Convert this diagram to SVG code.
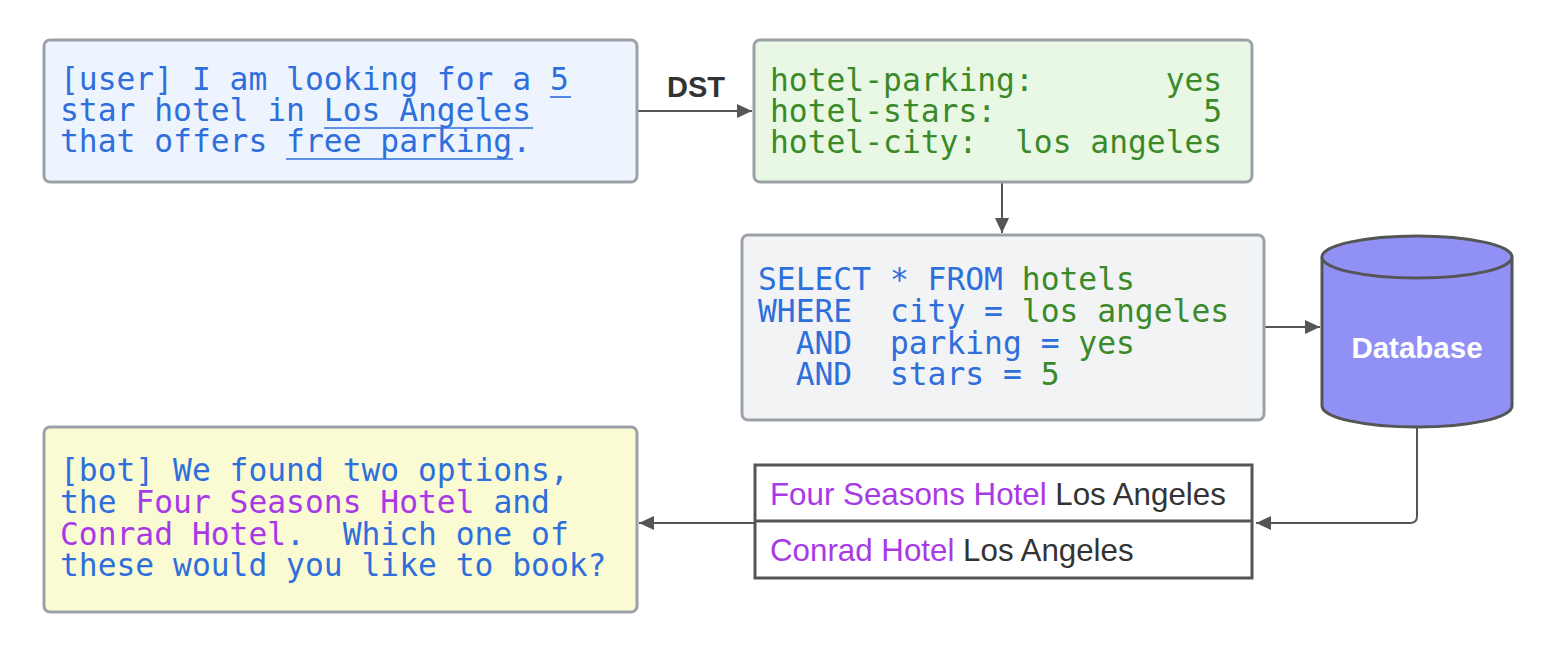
<svg xmlns="http://www.w3.org/2000/svg" width="1554" height="654" viewBox="0 0 1554 654">
<style>
.box{stroke:#9ca1a8;stroke-width:3}
.mono{font-family:"DejaVu Sans Mono","Liberation Mono",monospace;font-size:31.3px;white-space:pre}
.b{fill:#2f6fdc}
.g{fill:#3a8a2a}
.p{fill:#a83ae6}
.k{fill:#333333}
.ul{stroke:#2f6fdc;stroke-width:1.6}
.conn{fill:none;stroke:#555555;stroke-width:2}
.sans{font-family:"Liberation Sans",Arial,sans-serif}
</style>
<defs>
<marker id="arr" markerUnits="userSpaceOnUse" markerWidth="16" markerHeight="14" refX="15" refY="7" orient="auto">
<path d="M0,0 L15,7 L0,14 z" fill="#555555"/>
</marker>
</defs>
<rect width="1554" height="654" fill="#ffffff"/>

<g id="connectors">
<path class="conn" d="M637,111 L752,111" marker-end="url(#arr)"/>
<path class="conn" d="M1002,182 L1002,233" marker-end="url(#arr)"/>
<path class="conn" d="M1264,327 L1320,327" marker-end="url(#arr)"/>
<path class="conn" d="M1417,427 L1417,516 Q1417,523 1410,523 L1256,523" marker-end="url(#arr)"/>
<path class="conn" d="M755,523 L639,523" marker-end="url(#arr)"/>
<text class="sans" x="696" y="97" text-anchor="middle" font-size="29" font-weight="bold" fill="#333333">DST</text>
</g>

<g id="user">
<rect class="box" x="44" y="40" width="593" height="142" rx="6" fill="#eef4fe"/>
<text class="mono b"><tspan x="60" y="90">[user] I am looking for a 5</tspan><tspan x="60" y="121">star hotel in Los Angeles</tspan><tspan x="60" y="152">that offers free parking.</tspan></text>
<line class="ul" x1="550" y1="97" x2="571" y2="97"/>
<line class="ul" x1="324" y1="128" x2="533" y2="128"/>
<line class="ul" x1="286" y1="159" x2="513" y2="159"/>
</g>

<g id="state">
<rect class="box" x="754" y="40" width="498" height="142" rx="6" fill="#e8f8e4"/>
<text class="mono g"><tspan x="770" y="91">hotel-parking:       yes</tspan><tspan x="770" y="122">hotel-stars:           5</tspan><tspan x="770" y="153">hotel-city:  los angeles</tspan></text>
</g>

<g id="query">
<rect class="box" x="742" y="235" width="522" height="185" rx="6" fill="#f2f3f5"/>
<text class="mono"><tspan x="758" y="290" class="b">SELECT * FROM </tspan><tspan class="g">hotels</tspan><tspan x="758" y="322" class="b">WHERE  city = </tspan><tspan class="g">los angeles</tspan><tspan x="758" y="354" class="b">  AND  parking = </tspan><tspan class="g">yes</tspan><tspan x="758" y="385" class="b">  AND  stars = </tspan><tspan class="g">5</tspan></text>
</g>

<g id="database">
<path d="M1322,257 L1322,406 A95,21 0 0 0 1512,406 L1512,257" fill="#9090f5" stroke="#555555" stroke-width="3"/>
<ellipse cx="1417" cy="257" rx="95" ry="21" fill="#9090f5" stroke="#555555" stroke-width="3"/>
<text class="sans" x="1417" y="358" text-anchor="middle" font-size="29.5" font-weight="bold" fill="#ffffff">Database</text>
</g>

<g id="results">
<rect x="755" y="465" width="497" height="113" fill="#ffffff" stroke="#555555" stroke-width="3"/>
<line x1="755" y1="521" x2="1252" y2="521" stroke="#555555" stroke-width="3"/>
<text class="sans" x="770" y="505" font-size="31.3"><tspan class="p">Four Seasons Hotel</tspan><tspan class="k"> Los Angeles</tspan></text>
<text class="sans" x="770" y="561" font-size="31.3"><tspan class="p">Conrad Hotel</tspan><tspan class="k"> Los Angeles</tspan></text>
</g>

<g id="bot">
<rect class="box" x="44" y="427" width="593" height="185" rx="6" fill="#fbfbd3"/>
<text class="mono"><tspan x="60" y="481" class="b">[bot] We found two options,</tspan><tspan x="60" y="513" class="b">the </tspan><tspan class="p">Four Seasons Hotel</tspan><tspan class="b"> and</tspan><tspan x="60" y="545" class="p">Conrad Hotel</tspan><tspan class="b">.  Which one of</tspan><tspan x="60" y="576" class="b">these would you like to book?</tspan></text>
</g>
</svg>
